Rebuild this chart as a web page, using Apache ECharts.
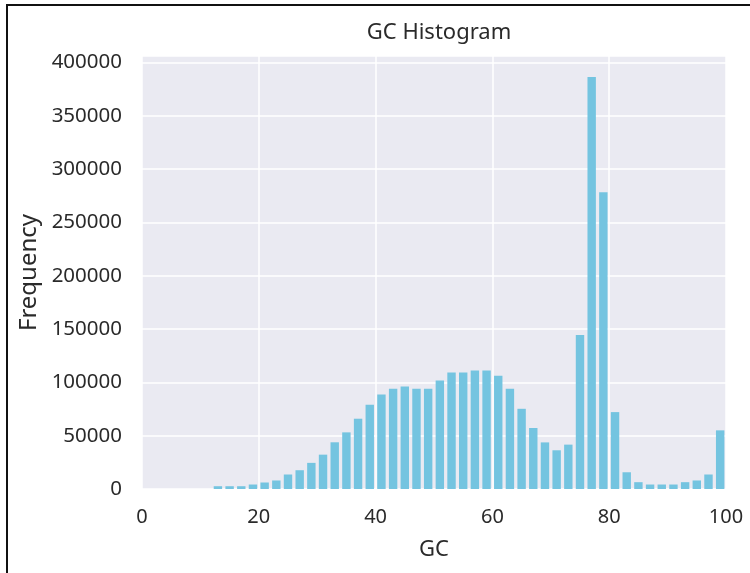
<!DOCTYPE html>
<html>
<head>
<meta charset="utf-8">
<script src="https://cdn.jsdelivr.net/npm/echarts@6/dist/echarts.min.js"></script>
<style>
  html, body { margin: 0; padding: 0; background: #ffffff; }
  #chart { width: 750px; height: 573px; }
</style>
</head>
<body>
<div id="chart"></div>
<script>
// Left edge of each GC bin (bin width 2)
const binLeft = [12, 14, 16, 18, 20, 22, 24, 26, 28, 30, 32, 34, 36, 38, 40, 42, 44, 46, 48, 50,
                 52, 54, 56, 58, 60, 62, 64, 66, 68, 70, 72, 74, 76, 78, 80, 82, 84, 86, 88, 90,
                 92, 94, 96, 98];
const binWidth = 2;
// Count of reads in each bin
const counts = [2600, 2600, 2600, 4200, 6100, 8000, 13600, 17600, 24500, 32200, 43800, 53100,
                65900, 79000, 88600, 93900, 96100, 93900, 93900, 101700, 109200, 109200, 111000,
                111000, 106100, 93900, 75200, 57200, 43700, 36300, 41600, 144500, 386400, 278300,
                72100, 15700, 6400, 4200, 4200, 4200, 6400, 8000, 13600, 55000];
const xTicks = [0, 20, 40, 60, 80, 100];
const yTicks = [0, 50000, 100000, 150000, 200000, 250000, 300000, 350000, 400000];

const textColor = '#2a2a2a';
const font = 'Noto Sans';

const histData = binLeft.map((l, i) => [l, l + binWidth, counts[i]]);

const chart = echarts.init(document.getElementById('chart'), null, { renderer: 'canvas' });
chart.setOption({
  animation: false,
  backgroundColor: '#ffffff',
  title: {
    text: 'GC Histogram',
    left: 434, top: 17, textAlign: 'center',
    textStyle: { fontFamily: font, fontSize: 22, fontWeight: 'normal', color: textColor }
  },
  grid: {
    left: 142, right: 24, top: 56, bottom: 84,
    show: true, backgroundColor: '#EAEAF2', borderWidth: 0
  },
  xAxis: {
    type: 'value', min: 0, max: 100, interval: 20,
    name: 'GC', nameLocation: 'middle', nameGap: 50,
    nameTextStyle: { fontFamily: font, fontSize: 22, color: textColor },
    axisLine: { show: false }, axisTick: { show: false },
    axisLabel: {
      fontFamily: font, fontSize: 20, color: textColor, margin: 18,
      formatter: v => xTicks.includes(v) ? String(v) : ''
    },
    splitLine: { show: true, lineStyle: { color: '#ffffff', width: 1.5 } }
  },
  yAxis: {
    type: 'value', min: 0, max: 406000, interval: 50000,
    name: 'Frequency', nameLocation: 'middle', nameGap: 98, nameRotate: 90,
    nameTextStyle: { fontFamily: font, fontSize: 24, color: textColor },
    axisLine: { show: false }, axisTick: { show: false },
    axisLabel: {
      fontFamily: font, fontSize: 20.5, color: textColor, margin: 20,
      formatter: v => yTicks.includes(v) ? String(v) : ''
    },
    splitLine: { show: true, lineStyle: { color: '#ffffff', width: 1.5 } }
  },
  series: [{
    type: 'custom',
    data: histData,
    encode: { x: [0, 1], y: 2 },
    renderItem: function (params, api) {
      const p0 = api.coord([api.value(0), 0]);
      const p1 = api.coord([api.value(1), api.value(2)]);
      const full = p1[0] - p0[0];
      const gap = full * 0.28;
      return {
        type: 'rect',
        shape: { x: p0[0] + gap / 2, y: p1[1], width: full - gap, height: p0[1] - p1[1] },
        style: { fill: '#74C4E0' }
      };
    }
  }],
  graphic: [
    { type: 'rect', shape: { x: 6, y: 4, width: 744, height: 2 }, style: { fill: '#111111' } },
    { type: 'rect', shape: { x: 6, y: 4, width: 2, height: 569 }, style: { fill: '#111111' } }
  ]
});
</script>
</body>
</html>
